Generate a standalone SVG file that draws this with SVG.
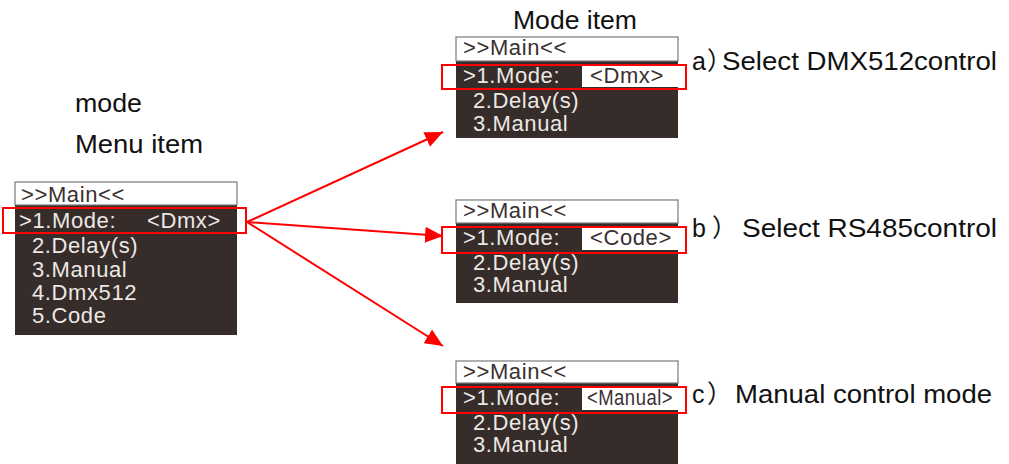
<svg xmlns="http://www.w3.org/2000/svg" width="1009" height="464" viewBox="0 0 1009 464">
<defs>
<style>
.hdr{fill:#ffffff;stroke:#7a7a7a;stroke-width:1.2}
.body{fill:#362c2a}
.hl{fill:#ffffff}
.sel{fill:none;stroke:#ff0000;stroke-width:2}
.lcd{font-family:"Liberation Sans",Arial,sans-serif;font-size:22px;letter-spacing:0.6px;fill:#ece8e4}
.lcdd{font-family:"Liberation Sans",Arial,sans-serif;font-size:22px;letter-spacing:0.6px;fill:#3a3030}
.lbl{font-family:"Liberation Sans",Arial,"Noto Sans CJK SC",sans-serif;font-size:25px;fill:#111111}
.conn{stroke:#ff0000;stroke-width:2;fill:none}
</style>
<marker id="ah" viewBox="0 0 18 16" refX="18" refY="8" markerWidth="18" markerHeight="16" markerUnits="userSpaceOnUse" orient="auto">
<path d="M0,0 L18,8 L0,16 Z" fill="#ff0000"/>
</marker>
</defs>

<g id="label-mode">
<text class="lbl" x="75" y="112" font-size="26" textLength="67" lengthAdjust="spacingAndGlyphs">mode</text>
<text class="lbl" x="75" y="153" font-size="26" textLength="128" lengthAdjust="spacingAndGlyphs">Menu item</text>
</g>
<text class="lbl" x="513" y="29" textLength="124" lengthAdjust="spacingAndGlyphs">Mode item</text>

<g id="menu-main">
<rect class="body" x="15" y="205" width="222" height="130"/>
<rect class="hdr" x="15" y="182" width="222" height="23"/>
<text class="lcdd" x="21" y="202">&gt;&gt;Main&lt;&lt;</text>
<text class="lcd" x="19" y="228">&gt;1.Mode:</text>
<text class="lcd" x="147" y="228">&lt;Dmx&gt;</text>
<text class="lcd" x="32" y="253">2.Delay(s)</text>
<text class="lcd" x="32" y="277">3.Manual</text>
<text class="lcd" x="32" y="300">4.Dmx512</text>
<text class="lcd" x="32" y="323">5.Code</text>
<rect class="sel" x="3" y="208" width="243" height="25"/>
</g>

<g id="menu-a">
<rect class="body" x="456" y="61" width="222" height="77"/>
<rect class="hdr" x="456" y="37" width="222" height="24"/>
<rect class="hl" x="582" y="66" width="96" height="21"/>
<text class="lcdd" x="463" y="55">&gt;&gt;Main&lt;&lt;</text>
<text class="lcd" x="463" y="83">&gt;1.Mode:</text>
<text class="lcdd" x="590" y="83">&lt;Dmx&gt;</text>
<text class="lcd" x="473" y="108">2.Delay(s)</text>
<text class="lcd" x="473" y="131">3.Manual</text>
<rect class="sel" x="442" y="65" width="244" height="24"/>
<text class="lbl" x="692" y="70">a<tspan x="707">）</tspan><tspan x="722" textLength="275" lengthAdjust="spacingAndGlyphs">Select DMX512control</tspan></text>
</g>

<g id="menu-b">
<rect class="body" x="456" y="223" width="222" height="80"/>
<rect class="hdr" x="456" y="200" width="222" height="23"/>
<rect class="hl" x="582" y="228" width="96" height="22"/>
<text class="lcdd" x="463" y="218">&gt;&gt;Main&lt;&lt;</text>
<text class="lcd" x="463" y="245">&gt;1.Mode:</text>
<text class="lcdd" x="590" y="245">&lt;Code&gt;</text>
<text class="lcd" x="473" y="270">2.Delay(s)</text>
<text class="lcd" x="473" y="292">3.Manual</text>
<rect class="sel" x="442" y="227" width="244" height="26"/>
<text class="lbl" x="692" y="237">b<tspan x="712">）</tspan><tspan x="742" textLength="255" lengthAdjust="spacingAndGlyphs">Select RS485control</tspan></text>
</g>

<g id="menu-c">
<rect class="body" x="456" y="383" width="222" height="81"/>
<rect class="hdr" x="456" y="361" width="222" height="22"/>
<rect class="hl" x="582" y="388" width="96" height="22"/>
<text class="lcdd" x="463" y="379">&gt;&gt;Main&lt;&lt;</text>
<text class="lcd" x="463" y="405">&gt;1.Mode:</text>
<text class="lcdd" x="587" y="405" textLength="86" lengthAdjust="spacingAndGlyphs" letter-spacing="0">&lt;Manual&gt;</text>
<text class="lcd" x="473" y="430">2.Delay(s)</text>
<text class="lcd" x="473" y="452">3.Manual</text>
<rect class="sel" x="442" y="387" width="244" height="26"/>
<text class="lbl" x="692" y="403">c<tspan x="707">）</tspan><tspan x="735" textLength="257" lengthAdjust="spacingAndGlyphs">Manual control mode</tspan></text>
</g>

<g id="connectors">
<line class="conn" x1="247" y1="222" x2="443" y2="132" marker-end="url(#ah)"/>
<line class="conn" x1="247" y1="222" x2="443" y2="236" marker-end="url(#ah)"/>
<line class="conn" x1="247" y1="222" x2="443" y2="346" marker-end="url(#ah)"/>
</g>
</svg>
